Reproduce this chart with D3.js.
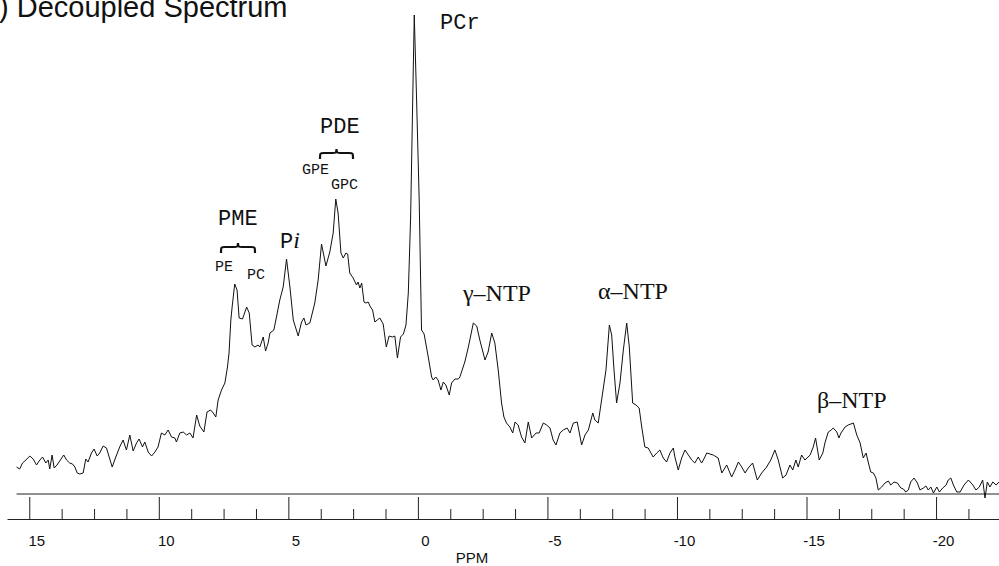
<!DOCTYPE html>
<html>
<head>
<meta charset="utf-8">
<script src="https://cdn.jsdelivr.net/npm/d3@7/dist/d3.min.js"></script>
<style>
body { margin: 0; background: #fff; }
svg { display: block; }
.mono { font-family: "Liberation Mono", "Courier New", monospace; fill: #111; }
.serif { font-family: "Liberation Serif", "Times New Roman", serif; fill: #111; }
.sans { font-family: "Liberation Sans", Arial, sans-serif; fill: #111; }
</style>
</head>
<body>
<div id="chart"></div>
<script>
// chemical shift (ppm) of each traced vertex, and signal height (arbitrary units)
const ppm = [
  15.49, 15.37, 15.26, 15.17, 14.98, 14.85, 14.72, 14.62, 14.49, 14.36, 14.27, 14.21, 14.12, 14.04,
  13.93, 13.80, 13.67, 13.56, 13.44, 13.33, 13.24, 13.15, 13.05, 12.92, 12.82, 12.73, 12.60, 12.50,
  12.38, 12.28, 12.15, 12.02, 11.80, 11.66, 11.51, 11.38, 11.25, 11.12, 10.99, 10.86, 10.76, 10.63,
  10.54, 10.41, 10.28, 10.15, 10.03, 9.90, 9.77, 9.64, 9.51, 9.38, 9.32, 9.19, 9.06, 8.93, 8.80,
  8.68, 8.54, 8.42, 8.26, 8.14, 8.00, 7.90, 7.80, 7.71, 7.58, 7.45, 7.35, 7.29, 7.22, 7.17, 7.07,
  6.98, 6.90, 6.77, 6.61, 6.51, 6.40, 6.29, 6.17, 6.10, 5.97, 5.88, 5.78, 5.71, 5.56, 5.46, 5.33,
  5.20, 5.07, 4.94, 4.81, 4.62, 4.49, 4.40, 4.32, 4.17, 3.98, 3.85, 3.72, 3.55, 3.40, 3.27, 3.17,
  3.08, 2.97, 2.88, 2.78, 2.71, 2.63, 2.50, 2.37, 2.31, 2.24, 2.17, 2.08, 2.01, 1.92, 1.83, 1.75,
  1.66, 1.57, 1.47, 1.34, 1.22, 1.11, 0.98, 0.89, 0.79, 0.67, 0.56, 0.46, 0.37, 0.28, 0.20, 0.14,
  0.05, -0.05, -0.14, -0.24, -0.40, -0.53, -0.59, -0.69, -0.78, -0.89, -0.98, -1.08, -1.21, -1.30,
  -1.43, -1.56, -1.62, -1.81, -1.94, -2.14, -2.27, -2.39, -2.59, -2.71, -2.85, -2.97, -3.10, -3.23,
  -3.32, -3.42, -3.55, -3.66, -3.75, -3.87, -4.00, -4.13, -4.26, -4.39, -4.56, -4.68, -4.84, -4.97,
  -5.10, -5.22, -5.33, -5.48, -5.61, -5.76, -5.87, -6.00, -6.15, -6.32, -6.45, -6.58, -6.75, -6.83,
  -6.96, -7.13, -7.26, -7.39, -7.48, -7.57, -7.67, -7.80, -7.93, -8.06, -8.16, -8.29, -8.42, -8.54,
  -8.64, -8.76, -8.89, -9.08, -9.22, -9.34, -9.47, -9.60, -9.73, -9.86, -9.92, -10.05, -10.18,
  -10.31, -10.44, -10.57, -10.69, -10.82, -10.95, -11.02, -11.15, -11.40, -11.59, -11.73, -11.92,
  -12.11, -12.24, -12.37, -12.50, -12.63, -12.75, -12.92, -13.10, -13.27, -13.46, -13.62, -13.78,
  -13.91, -14.08, -14.21, -14.36, -14.47, -14.59, -14.68, -14.81, -14.94, -15.14, -15.26, -15.35,
  -15.49, -15.63, -15.71, -15.84, -15.95, -16.03, -16.17, -16.25, -16.33, -16.49, -16.61, -16.81,
  -16.94, -17.07, -17.19, -17.30, -17.39, -17.48, -17.58, -17.68, -17.77, -17.90, -18.03, -18.16,
  -18.25, -18.38, -18.51, -18.64, -18.74, -18.83, -18.93, -19.02, -19.15, -19.28, -19.38, -19.51,
  -19.61, -19.70, -19.80, -19.90, -20.03, -20.13, -20.26, -20.39, -20.47, -20.57, -20.67, -20.80,
  -20.93, -21.08, -21.25, -21.42, -21.54, -21.67, -21.80, -21.89, -21.98, -22.08, -22.19, -22.32, -22.43
];
const intensity = [
  27, 25, 31, 33, 38, 35, 29, 33, 37, 31, 34, 25, 39, 26,
  29, 34, 39, 34, 31, 30, 27, 21, 20, 21, 35, 32, 41, 45,
  38, 41, 48, 46, 27, 37, 47, 54, 44, 59, 43, 51, 55, 47,
  52, 42, 38, 42, 47, 61, 59, 64, 57, 56, 52, 61, 62, 59, 61,
  56, 79, 68, 62, 82, 84, 81, 77, 94, 104, 111, 127, 141, 174, 187, 210,
  204, 176, 175, 187, 181, 149, 147, 149, 147, 157, 143, 151, 161, 164, 177, 194,
  207, 235, 207, 174, 158, 172, 176, 169, 171, 191, 214, 250, 228, 242, 261, 295,
  281, 241, 236, 241, 240, 221, 216, 209, 212, 206, 211, 192, 191, 192, 187, 184,
  172, 174, 176, 170, 147, 158, 157, 158, 136, 157, 160, 169, 201, 277, 394, 479,
  394, 294, 164, 160, 137, 117, 114, 117, 114, 104, 112, 109, 99, 111,
  115, 115, 117, 132, 146, 171, 168, 154, 134, 142, 161, 151, 124, 91,
  77, 71, 67, 61, 72, 69, 57, 51, 72, 56, 61, 61, 71, 69,
  66, 54, 49, 61, 64, 66, 61, 71, 72, 49, 59, 64, 81, 74,
  71, 101, 124, 169, 159, 124, 91, 111, 144, 171, 147, 91, 89, 86,
  67, 47, 46, 37, 41, 44, 36, 32, 41, 46, 37, 24, 36,
  44, 39, 34, 31, 37, 31, 34, 41, 39, 36, 21, 29,
  17, 24, 32, 27, 21, 26, 31, 14, 21, 27, 34, 44,
  34, 16, 19, 29, 24, 34, 27, 39, 34, 39, 47, 56,
  34, 41, 51, 62, 64, 66, 62, 56, 61, 67, 69, 71,
  59, 51, 36, 41, 31, 22, 21, 16, 4, 7, 11, 13,
  9, 12, 11, 6, 5, 2, 4, 12, 16, 11, 4, 6,
  8, 4, 7, 1, 7, 2, 6, 9, 14, 16, 9, 2,
  2, 9, 14, 9, 4, 7, 14, -4, 12, 7, 12, 9, 12
];
const majorTicks = [15, 10, 5, 0, -5, -10, -15, -20];
const minorTicks = [13.75, 12.5, 11.25, 8.75, 7.5, 6.25, 3.75, 2.5, 1.25, -1.25, -2.5, -3.75,
  -6.25, -7.5, -8.75, -11.25, -12.5, -13.75, -16.25, -17.5, -18.75, -21.25];

const w = 999;
const h = 566;

const xScale = d3.scaleLinear()
    .domain([15.86, -22.43])
    .range([7, 999]);

const yScale = d3.scaleLinear()
    .domain([0, 480])
    .range([494, 14]);

const svg = d3.select("#chart")
    .append("svg")
    .attr("width", w)
    .attr("height", h);

// title, clipped at the left/top like the scan
svg.append("text")
    .attr("class", "sans")
    .attr("x", -1)
    .attr("y", 17)
    .style("font-size", "29px")
    .text(") Decoupled Spectrum");

// zero line under the spectrum
svg.append("line")
    .attr("x1", xScale(ppm[0]))
    .attr("x2", xScale(ppm[ppm.length - 1]))
    .attr("y1", yScale(0))
    .attr("y2", yScale(0))
    .attr("stroke", "#222")
    .attr("stroke-width", 1);

const line = d3.line()
    .x((d, i) => xScale(ppm[i]))
    .y((d) => yScale(d));

svg.append("path")
    .datum(intensity)
    .attr("d", line)
    .attr("fill", "none")
    .attr("stroke", "#111")
    .attr("stroke-width", 1)
    .attr("stroke-linejoin", "round");

// ppm scale: ticks standing up from the bottom rule
const majorAxis = svg.append("g")
    .attr("transform", "translate(0,519)")
    .call(d3.axisTop(xScale).tickValues(majorTicks).tickSize(22).tickSizeOuter(0).tickFormat(""));

const minorAxis = svg.append("g")
    .attr("transform", "translate(0,519)")
    .call(d3.axisTop(xScale).tickValues(minorTicks).tickSize(10).tickSizeOuter(0).tickFormat(""));
minorAxis.select(".domain").remove();

svg.selectAll(".tick line").attr("stroke", "#222");
majorAxis.select(".domain").attr("stroke", "#222");

const labelAxis = svg.append("g")
    .attr("transform", "translate(7,535)")
    .call(d3.axisBottom(xScale).tickValues(majorTicks).tickSize(0).tickPadding(0)
        .tickFormat((d) => String(d)));
labelAxis.select(".domain").remove();
labelAxis.selectAll("text")
    .attr("fill", "#111")
    .style("font-size", "15px")
    .style("font-family", "'Liberation Sans', Arial, sans-serif");

svg.append("text")
    .attr("class", "sans")
    .attr("x", 472)
    .attr("y", 563)
    .attr("text-anchor", "middle")
    .style("font-size", "15px")
    .text("PPM");

// peak annotations
const brace = (x0, x1, yTop, yBot) => {
    const xm = (x0 + x1) / 2;
    const ys = yTop + 4;
    return `M${x0},${yBot} C${x0},${ys} ${x0},${ys} ${x0 + 4},${ys} L${xm - 4},${ys}` +
        ` C${xm - 1},${ys} ${xm},${ys} ${xm},${yTop} C${xm},${ys} ${xm + 1},${ys} ${xm + 4},${ys}` +
        ` L${x1 - 4},${ys} C${x1},${ys} ${x1},${ys} ${x1},${yBot}`;
};

const addText = (cls, x, y, size, txt) => svg.append("text")
    .attr("class", cls)
    .attr("x", x)
    .attr("y", y)
    .style("font-size", size + "px")
    .text(txt);

addText("mono", 440, 29, 22, "PCr");
addText("mono", 320, 133, 22, "PDE");
addText("mono", 218, 225, 22, "PME");
addText("mono", 302, 174, 15, "GPE");
addText("mono", 331, 189, 15, "GPC");
addText("mono", 215, 271, 15, "PE");
addText("mono", 247, 279, 15, "PC");

const pi = svg.append("text")
    .attr("x", 280)
    .attr("y", 248)
    .style("font-size", "22px");
pi.append("tspan").attr("class", "mono").text("P");
pi.append("tspan").attr("class", "serif").style("font-style", "italic").style("font-size", "24px").text("i");

addText("serif", 463, 301, 24, "\u03b3\u2013NTP");
addText("serif", 598, 299, 24, "\u03b1\u2013NTP");
addText("serif", 817, 408, 24, "\u03b2\u2013NTP");

svg.append("path")
    .attr("d", brace(221, 255, 243, 253))
    .attr("fill", "none")
    .attr("stroke", "#111")
    .attr("stroke-width", 2.2);

svg.append("path")
    .attr("d", brace(320, 353, 149, 159))
    .attr("fill", "none")
    .attr("stroke", "#111")
    .attr("stroke-width", 2.2);
</script>
</body>
</html>
